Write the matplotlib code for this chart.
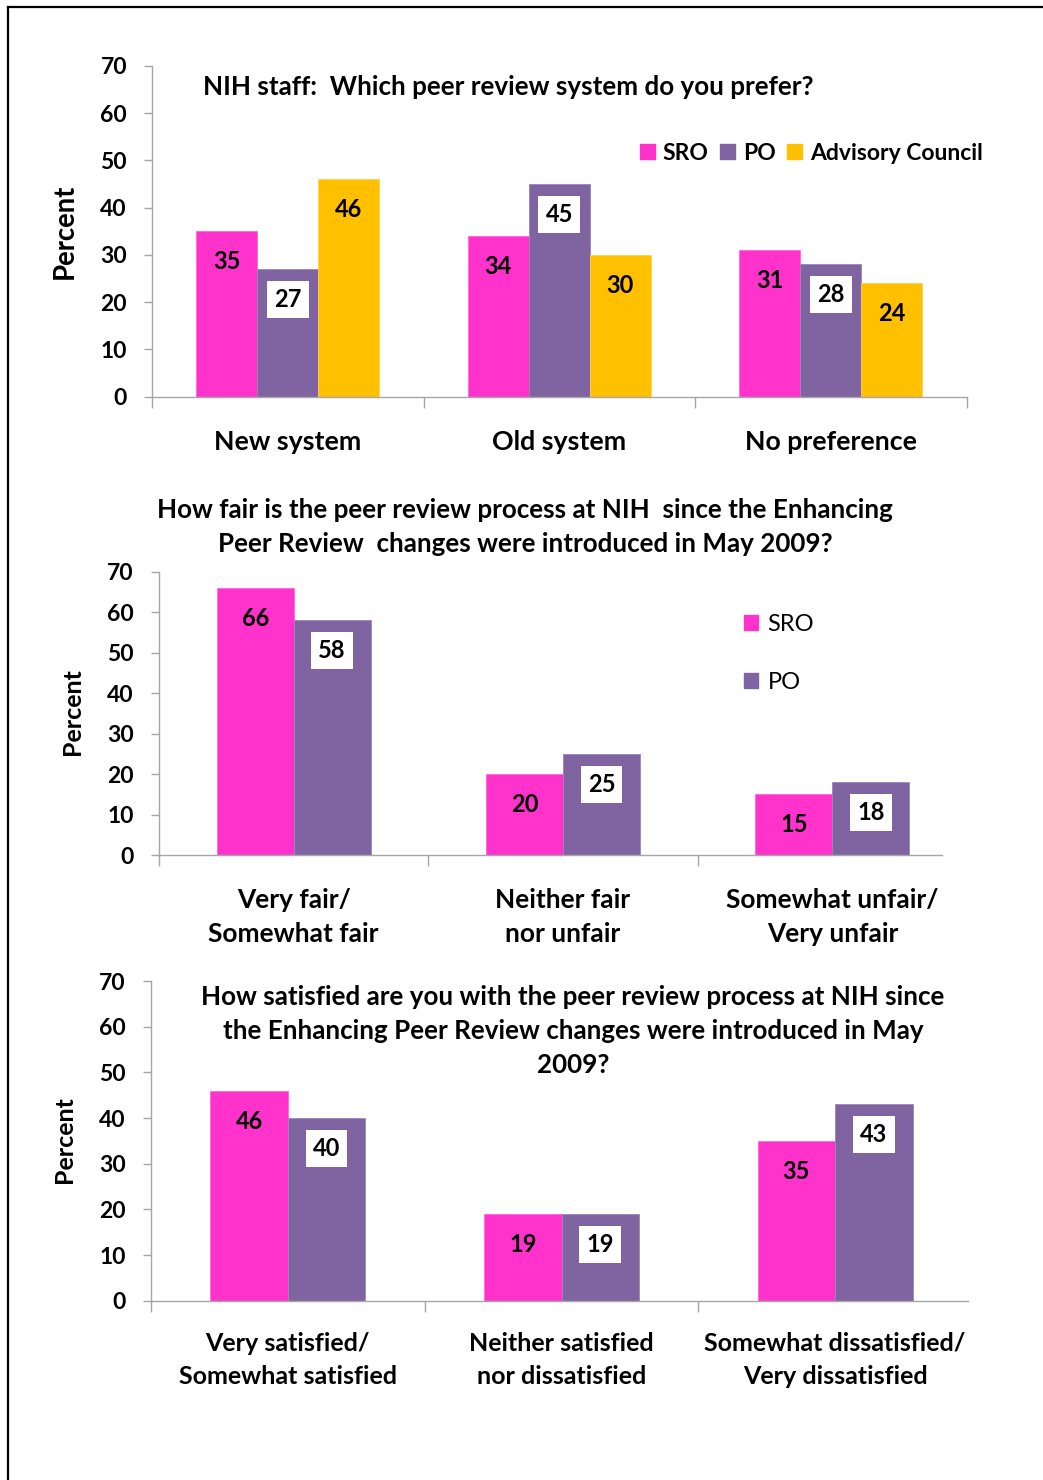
import matplotlib
matplotlib.use("Agg")
import matplotlib.pyplot as plt
from matplotlib.transforms import blended_transform_factory
from matplotlib.lines import Line2D
from matplotlib.patches import Patch

plt.rcParams['font.family'] = ['Lato', 'DejaVu Sans']

# ---------------- data ----------------
c1_categories = ["New system", "Old system", "No preference"]
c1_sro = [35, 34, 31]
c1_po = [27, 45, 28]
c1_council = [46, 30, 24]
c1_title = "NIH staff:  Which peer review system do you prefer?"

c2_categories = ["Very fair/\nSomewhat fair", "Neither fair\nnor unfair", "Somewhat unfair/\nVery unfair"]
c2_sro = [66, 20, 15]
c2_po = [58, 25, 18]
c2_title = "How fair is the peer review process at NIH  since the Enhancing\nPeer Review  changes were introduced in May 2009?"

c3_categories = ["Very satisfied/\nSomewhat satisfied", "Neither satisfied\nnor dissatisfied", "Somewhat dissatisfied/\nVery dissatisfied"]
c3_sro = [46, 19, 35]
c3_po = [40, 19, 43]
c3_title = "How satisfied are you with the peer review process at NIH since\nthe Enhancing Peer Review changes were introduced in May\n2009?"

yticks = [0, 10, 20, 30, 40, 50, 60, 70]
series_names = ["SRO", "PO", "Advisory Council"]

PINK = "#FF33CC"
PURPLE = "#8064A2"
GOLD = "#FFC000"
GRAY = "#A6A6A6"

W, H = 1043, 1480
fig = plt.figure(figsize=(W / 100, H / 100), dpi=100)

def fx(x):
    return x / W

def fy(y):
    return 1 - y / H

def make_axes(left, right_cat, top, bottom):
    ax = fig.add_axes([fx(left), fy(bottom), fx(right_cat - left), (bottom - top) / H])
    ax.set_xlim(-0.5, 2.5)
    ax.set_ylim(0, 70)
    ax.patch.set_alpha(0)
    for s in ["top", "right"]:
        ax.spines[s].set_visible(False)
    for s in ["left", "bottom"]:
        ax.spines[s].set_color(GRAY)
        ax.spines[s].set_linewidth(1.0)
    ax.set_yticks(yticks)
    ax.set_yticklabels([str(t) for t in yticks], fontsize=16.5, fontweight='bold')
    ax.tick_params(axis='y', direction='out', length=6, color=GRAY, width=1.0, pad=12)
    ax.set_xticks([-0.5, 0.5, 1.5, 2.5])
    ax.set_xticklabels([])
    ax.tick_params(axis='x', direction='out', length=8, color=GRAY, width=1.0)
    return ax

def bar_labels(ax, xs, vals, boxed):
    for x, v in zip(xs, vals):
        kw = {}
        if boxed:
            kw['bbox'] = dict(boxstyle='square,pad=0.3', fc='white', ec='none')
        ax.annotate(str(v), (x, v), xytext=(0, -22), textcoords='offset points',
                    ha='center', va='center', fontsize=17, fontweight='bold', color='black', **kw)

def cat_labels(ax, cats, ycenter_px, lsp, size):
    tr = blended_transform_factory(ax.transData, fig.transFigure)
    for i, c in enumerate(cats):
        ax.text(i, fy(ycenter_px), c, transform=tr, ha='center', va='center',
                fontsize=size, fontweight='bold', linespacing=lsp, multialignment='center')

# ---------------- chart 1 ----------------
ax1 = make_axes(152, 966.5, 66, 396.5)
w1 = 0.225
x = list(range(3))
ax1.bar([i - w1 for i in x], c1_sro, w1, color=PINK, edgecolor="#FF66DD", linewidth=0.6)
ax1.bar(x, c1_po, w1, color=PURPLE, edgecolor="#9A85B8", linewidth=0.6)
ax1.bar([i + w1 for i in x], c1_council, w1, color=GOLD, edgecolor="#FFD24D", linewidth=0.6)
bar_labels(ax1, [i - w1 for i in x], c1_sro, False)
bar_labels(ax1, x, c1_po, True)
bar_labels(ax1, [i + w1 for i in x], c1_council, False)
cat_labels(ax1, c1_categories, 442, 1.2, 19.3)
fig.text(fx(203), fy(87), c1_title, ha='left', va='center', fontsize=18.7, fontweight='bold')
fig.text(fx(65), fy(231.5), "Percent", rotation=90, ha='center', va='center', fontsize=19.8, fontweight='bold')
handles1 = [Patch(color=PINK), Patch(color=PURPLE), Patch(color=GOLD)]
leg1 = fig.legend(handles1, series_names, loc='center left', bbox_to_anchor=(fx(640), fy(153)),
                  ncol=3, frameon=False, fontsize=16.5, handlelength=0.65, handleheight=0.65,
                  handletextpad=0.35, columnspacing=0.5, borderpad=0, borderaxespad=0)
for t in leg1.get_texts():
    t.set_fontweight('bold')

# ---------------- chart 2 ----------------
ax2 = make_axes(159, 967, 571.5, 855)
ax2.spines['bottom'].set_bounds(-0.5, 2.5 - 25 / 269.5)
ax2.set_xticks([-0.5, 0.5, 1.5])
w2 = 0.286
ax2.bar([i - w2 / 2 for i in x], c2_sro, w2, color=PINK, edgecolor="#FF66DD", linewidth=0.6)
ax2.bar([i + w2 / 2 for i in x], c2_po, w2, color=PURPLE, edgecolor="#9A85B8", linewidth=0.6)
bar_labels(ax2, [i - w2 / 2 for i in x], c2_sro, False)
bar_labels(ax2, [i + w2 / 2 for i in x], c2_po, True)
cat_labels(ax2, c2_categories, 917, 1.5, 18.9)
fig.text(fx(525), fy(527), c2_title, ha='center', va='center', fontsize=18.7, fontweight='bold',
         linespacing=1.47, multialignment='center')
fig.text(fx(72), fy(712), "Percent", rotation=90, ha='center', va='center', fontsize=18, fontweight='bold')
leg2 = fig.legend([Patch(color=PINK), Patch(color=PURPLE)], series_names[:2], loc='upper left',
                  bbox_to_anchor=(fx(744), fy(614)), ncol=1, frameon=False, fontsize=17,
                  handlelength=0.6, handleheight=0.6, handletextpad=0.4, labelspacing=1.55,
                  borderpad=0, borderaxespad=0)

# ---------------- chart 3 ----------------
ax3 = make_axes(151, 972, 981, 1300.7)
ax3.spines['bottom'].set_bounds(-0.5, 2.5 - 4 / 273.7)
ax3.set_xticks([-0.5, 0.5, 1.5])
w3 = 0.283
ax3.bar([i - w3 / 2 for i in x], c3_sro, w3, color=PINK, edgecolor="#FF66DD", linewidth=0.6)
ax3.bar([i + w3 / 2 for i in x], c3_po, w3, color=PURPLE, edgecolor="#9A85B8", linewidth=0.6)
bar_labels(ax3, [i - w3 / 2 for i in x], c3_sro, False)
bar_labels(ax3, [i + w3 / 2 for i in x], c3_po, True)
cat_labels(ax3, c3_categories, 1360, 1.57, 18)
fig.text(fx(573), fy(1031), c3_title, ha='center', va='center', fontsize=18.7, fontweight='bold',
         linespacing=1.5, multialignment='center')
fig.text(fx(65), fy(1140), "Percent", rotation=90, ha='center', va='center', fontsize=18, fontweight='bold')

# ---------------- frame (top and left edges) ----------------
fig.add_artist(Line2D([fx(8), 1.0], [fy(7), fy(7)], color='black', linewidth=1.6, transform=fig.transFigure))
fig.add_artist(Line2D([fx(8), fx(8)], [fy(7), 0.0], color='black', linewidth=1.6, transform=fig.transFigure))

fig.savefig("out.png", dpi=100)
